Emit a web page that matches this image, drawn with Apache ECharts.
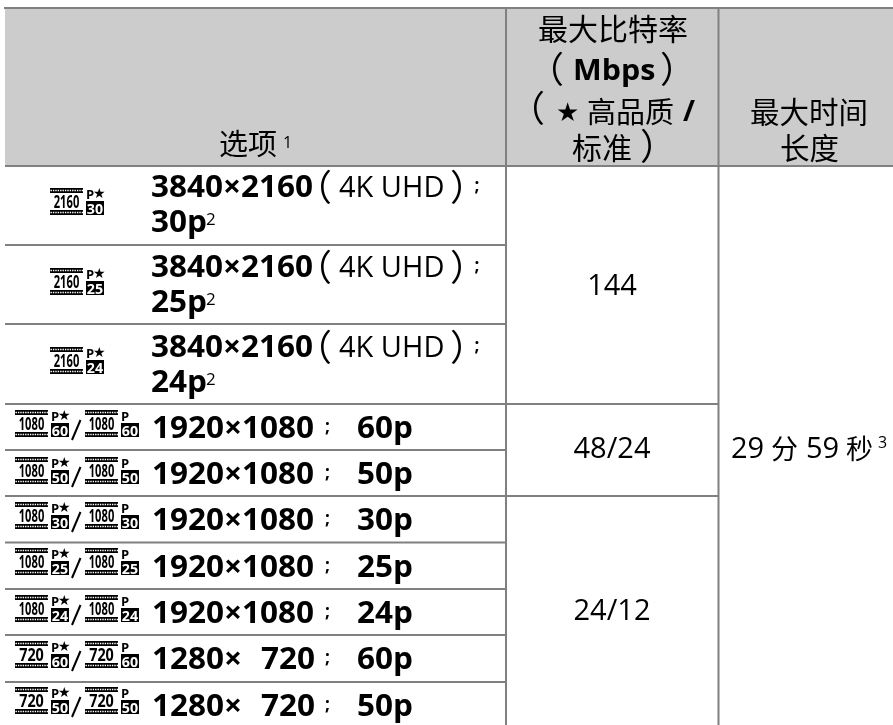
<!DOCTYPE html>
<html><head><meta charset="utf-8">
<style>html,body{margin:0;padding:0;background:#fff}#c{width:893px;height:725px}</style>
<script src="https://cdn.jsdelivr.net/npm/echarts@6/dist/echarts.min.js"></script>
</head><body><div id="c"></div>
<script>
// ---- content ----
const resolutions = ['3840×2160','3840×2160','3840×2160','1920×1080','1920×1080','1920×1080','1920×1080','1920×1080','1280×','1280×'];
const heights2    = ['','','','','','','','','720','720'];
const frameRates  = ['30p','25p','24p','60p','50p','30p','25p','24p','60p','50p'];
const iconRes     = ['2160','2160','2160','1080','1080','1080','1080','1080','720','720'];
const iconFps     = ['30','25','24','60','50','30','25','24','60','50'];
const bitrates    = ['144','48/24','24/12'];
const uhdLabel    = '4K UHD';
const header2     = ['最大比特率','Mbps','高品质','标准'];
const header3     = ['最大时间','长度'];
const optionLabel = '选项';
const durationParts = ['29','分','59','秒'];

// ---- layout ----
const W = 893, H = 725;
const rowLines  = [245,324,404,450,496,542.5,589,635,682];
const colLines  = [506,718.5];
const baseline1 = [197,277,357,438,484,530,577,623,669,716];
const baseline2 = [232,312,392];
const iconTop   = [188,268,347,410,457,502,548,595,641,687];
const bitrateBase = [294.5,457.5,620];
const GRAY = '#808080', FILL = '#cccccc';
const LAT = '"Open Sans","Noto Sans CJK SC",sans-serif';
const CJK = '"Noto Sans CJK SC","Open Sans",sans-serif';
const BOLD_SX = 1.05;
const PAREN = 36;

function T(api, str, x, base, size, opt) {
  opt = opt || {};
  const up = opt.fam === CJK ? 0.357 : 0.27;
  const p = api.coord([x, base - size * up]);
  return { type:'text', x:p[0], y:p[1], scaleX:opt.sx||1, scaleY:opt.sy||1, silent:true,
    style:{ text:str, x:0, y:0, fill:opt.fill||'#000', align:opt.align||'left', verticalAlign:'middle',
      font:(opt.bold?'700 ':'400 ')+size+'px '+(opt.fam||LAT) } };
}
function R(api, x0, y0, x1, y1, fill) {
  const a = api.coord([x0,y0]), b = api.coord([x1,y1]);
  return { type:'rect', silent:true, shape:{x:a[0],y:a[1],width:b[0]-a[0],height:b[1]-a[1]}, style:{fill:fill} };
}
function L(api, x0, y0, x1, y1, col, w, dash) {
  const a = api.coord([x0,y0]), b = api.coord([x1,y1]);
  return { type:'line', silent:true, shape:{x1:a[0],y1:a[1],x2:b[0],y2:b[1]}, style:{stroke:col,lineWidth:w,lineDash:dash||null} };
}
function icon(api, x, y, res, fps, star) {
  const out = [];
  [y, y+22].forEach(v => {
    out.push(R(api, x, v, x+33, v+5, '#000'));
    out.push(L(api, x+0.5, v+2.5, x+33, v+2.5, '#fff', 1.4, [1.4,1]));
  });
  out.push(T(api, res, x+16.5, y+20, 18, {align:'center', bold:true, sx:res.length>3?0.62:0.8}));
  const bx = x+36;
  out.push(T(api, 'P', bx, y+11, 13, {bold:true}));
  if (star) out.push(T(api, '★', bx+7, y+10.5, 14, {fam:'"DejaVu Sans"'}));
  const right = bx+18;
  out.push(R(api, bx, y+13, right, y+27, '#000'));
  out.push(T(api, fps, bx+9, y+25.5, 15, {bold:true, fill:'#fff', align:'center', sx:0.95}));
  return out;
}

const option = {
  animation:false,
  grid:{left:0,right:0,top:0,bottom:0},
  xAxis:{type:'value',min:0,max:W,show:false},
  yAxis:{type:'value',min:0,max:H,inverse:true,show:false},
  series:[
    { type:'custom', coordinateSystem:'cartesian2d', clip:false, silent:true, data:[[0,0]],
      renderItem(p, api){
        const c = [];
        c.push(R(api,5,8,W,166,FILL));
        c.push(L(api,4,8,W,8,GRAY,2));
        c.push(L(api,5,166,W,166,GRAY,2));
        rowLines.forEach((y,i)=>{
          const long = (i===2||i===4);
          c.push(L(api,5,y,long?colLines[1]:colLines[0],y,GRAY,2));
        });
        colLines.forEach(x=>c.push(L(api,x,8,x,H,GRAY,2)));
        // header
        c.push(T(api,optionLabel,219,154,29,{fam:CJK}));
        c.push(T(api,'1',283,148,16));
        c.push(T(api,header2[0],538,39,30,{fam:CJK}));
        c.push(T(api,'（',528,82,PAREN,{fam:CJK}));
        c.push(T(api,header2[1],573,80,29,{bold:true,sx:1.05}));
        c.push(T(api,'）',660,82,PAREN,{fam:CJK}));
        c.push(T(api,'（',509,121,PAREN,{fam:CJK}));
        c.push(T(api,'★',556,121,26,{fam:'"DejaVu Sans"'}));
        c.push(T(api,header2[2],587,122,29,{fam:CJK}));
        c.push(T(api,'/',683,121,29,{bold:true}));
        c.push(T(api,header2[3],572,158,30,{fam:CJK}));
        c.push(T(api,'）',640,159,PAREN,{fam:CJK}));
        c.push(T(api,header3[0],750,122,29.5,{fam:CJK}));
        c.push(T(api,header3[1],780,158,29.5,{fam:CJK}));
        // merged cells
        bitrates.forEach((b,i)=>c.push(T(api,b,612,bitrateBase[i],29,{align:'center'})));
        c.push(T(api,durationParts[0],731,458,29));
        c.push(T(api,durationParts[1],771,458,27,{fam:CJK}));
        c.push(T(api,durationParts[2],806,458,29));
        c.push(T(api,durationParts[3],846,458,27,{fam:CJK}));
        c.push(T(api,'3',878,448,16));
        return {type:'group',children:c};
      }
    },
    { type:'custom', coordinateSystem:'cartesian2d', clip:false, silent:true,
      data:resolutions.map((r,i)=>[i]),
      renderItem(p, api){
        const i = api.value(0), c = [], b = baseline1[i];
        if (i<3){
          c.push(...icon(api,50,iconTop[i],iconRes[i],iconFps[i],true));
          c.push(T(api,resolutions[i],151,b,30,{bold:true,sx:BOLD_SX}));
          c.push(T(api,'（',296,b+3,PAREN,{fam:CJK}));
          c.push(T(api,uhdLabel,339,b,29,{}));
          c.push(T(api,'）',450,b+3,PAREN,{fam:CJK}));
          c.push(T(api,';',474.5,b-6,17,{bold:true}));
          c.push(T(api,frameRates[i],151,baseline2[i],30,{bold:true,sx:BOLD_SX}));
          c.push(T(api,'2',206,baseline2[i]-7,17));
        } else {
          c.push(...icon(api,15,iconTop[i],iconRes[i],iconFps[i],true));
          c.push(L(api,80.5,iconTop[i]+10,72,iconTop[i]+30,'#000',2));
          c.push(...icon(api,85,iconTop[i],iconRes[i],iconFps[i],false));
          c.push(T(api,resolutions[i],152,b,30,{bold:true,sx:BOLD_SX}));
          if (heights2[i]) c.push(T(api,heights2[i],261,b,30,{bold:true,sx:BOLD_SX}));
          c.push(T(api,';',325,b-6,17,{bold:true}));
          c.push(T(api,frameRates[i],357,b,30,{bold:true,sx:BOLD_SX}));
        }
        return {type:'group',children:c};
      }
    }
  ]
};
echarts.init(document.getElementById('c'),null,{renderer:'canvas'}).setOption(option);
</script></body></html>
